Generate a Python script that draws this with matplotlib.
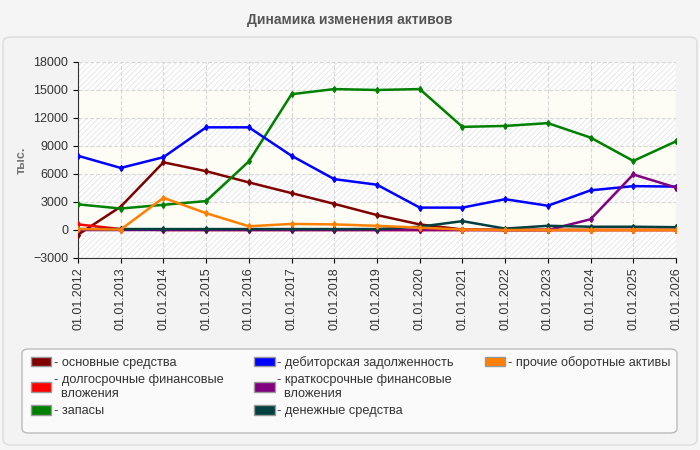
import matplotlib
matplotlib.use('Agg')
import matplotlib.pyplot as plt
from matplotlib.patches import Patch, FancyBboxPatch

dates = ['01.01.2012', '01.01.2013', '01.01.2014', '01.01.2015', '01.01.2016',
         '01.01.2017', '01.01.2018', '01.01.2019', '01.01.2020', '01.01.2021',
         '01.01.2022', '01.01.2023', '01.01.2024', '01.01.2025', '01.01.2026']

osnovnye = [-500, 2500, 7250, 6300, 5100, 3950, 2800, 1600, 600, 50, 0, 0, 0, 0, 0]
dolgosrochnye = [600, 100, 0, 0, 0, 0, 0, 0, 0, 0, 0, 0, 0, 0, 0]
zapasy = [2750, 2300, 2700, 3100, 7350, 14550, 15100, 15000, 15100, 11050, 11150, 11450, 9900, 7400, 9500]
debitorskaya = [7950, 6650, 7800, 11000, 11000, 7950, 5450, 4850, 2400, 2400, 3300, 2600, 4250, 4700, 4650]
kratkosrochnye = [0, 0, 0, 0, 0, 0, 0, 0, 0, 0, 0, 0, 1150, 5950, 4550]
denezhnye = [100, 100, 100, 100, 100, 100, 100, 100, 350, 950, 150, 450, 350, 350, 300]
prochie = [100, 50, 3450, 1800, 400, 650, 600, 450, 250, 50, 0, 0, 0, 0, 0]

labels = ['основные средства', 'долгосрочные финансовые\nвложения', 'запасы',
          'дебиторская задолженность', 'краткосрочные финансовые\nвложения',
          'денежные средства', 'прочие оборотные активы']
colors = ['#800000', '#ff0000', '#008000', '#0000ff', '#800080', '#004040', '#ff8000']
series = [osnovnye, dolgosrochnye, zapasy, debitorskaya, kratkosrochnye, denezhnye, prochie]

plt.rcParams['font.family'] = ['Liberation Sans', 'DejaVu Sans']
plt.rcParams['hatch.linewidth'] = 0.6

fig = plt.figure(figsize=(7, 4.5), dpi=100)
fig.patch.set_facecolor('#f5f5f5')
panel = FancyBboxPatch((3 / 700, 5 / 450), 694 / 700, 408 / 450,
                       boxstyle='round,pad=0,rounding_size=0.012',
                       transform=fig.transFigure, facecolor='#f3f3f3',
                       edgecolor='#dcdcdc', lw=1, zorder=-10)
fig.patches.append(panel)
legbox = FancyBboxPatch((22 / 700, 1 - 433 / 450), 655 / 700, 84 / 450,
                        boxstyle='round,pad=0,rounding_size=0.01',
                        transform=fig.transFigure, facecolor='#fafafa',
                        edgecolor='#bbbbbb', lw=1, zorder=-5)
fig.patches.append(legbox)

fig.text(0.5, 1 - 20 / 450, 'Динамика изменения активов', ha='center', va='center',
         fontsize=10, fontweight='bold', color='#555555')

ax = fig.add_axes([78 / 700, 1 - 258 / 450, 598 / 700, 196 / 450])
ax.set_facecolor('#fdfdf6')

# alternating hatched bands
for lo in range(-3000, 18000, 6000):
    ax.axhspan(lo, lo + 3000, facecolor='#ffffff', edgecolor='#e4e4e4',
               hatch='//////', lw=0, zorder=0.1)

x = list(range(len(dates)))
for vals, c in zip(series, colors):
    ax.plot(x, vals, color=c, lw=1.8, marker='d', ms=3, zorder=3)

ax.set_xlim(0, len(dates) - 1)
ax.set_ylim(-3000, 18000)
ax.set_yticks(range(-3000, 18001, 3000))
ax.set_xticks(x)
ax.set_xticklabels(dates, rotation=90, fontsize=9, color='#333333')
ax.tick_params(axis='y', labelsize=9, labelcolor='#333333')
ax.grid(True, color='#d8d8d8', linestyle='--', lw=0.8, zorder=0.5)
for s in ['top', 'right']:
    ax.spines[s].set_visible(False)
for s in ['left', 'bottom']:
    ax.spines[s].set_color('#333333')
ax.set_ylabel('тыс.', fontsize=9, fontweight='bold', color='#777777', labelpad=4)

handles = [Patch(facecolor=c, edgecolor='#999999', label='- ' + l.replace('\n', '\n  '))
           for c, l in zip(colors, labels)]
# two invisible placeholders keep the 3/3/1 column layout
handles += [Patch(facecolor='none', edgecolor='none', label=' ') for _ in range(2)]
leg = fig.legend(handles=handles, loc='upper left', ncol=3,
                 bbox_to_anchor=(31 / 700, 1 - 426 / 450, 639 / 700, 70 / 450),
                 mode='expand', fontsize=9.2, frameon=False,
                 handlelength=1.6, handleheight=0.8, handletextpad=0.2,
                 labelspacing=0.4, borderaxespad=0, borderpad=0, columnspacing=1.0)
for t in leg.get_texts():
    t.set_color('#333333')

fig.savefig('out.png', dpi=100, facecolor=fig.get_facecolor())
